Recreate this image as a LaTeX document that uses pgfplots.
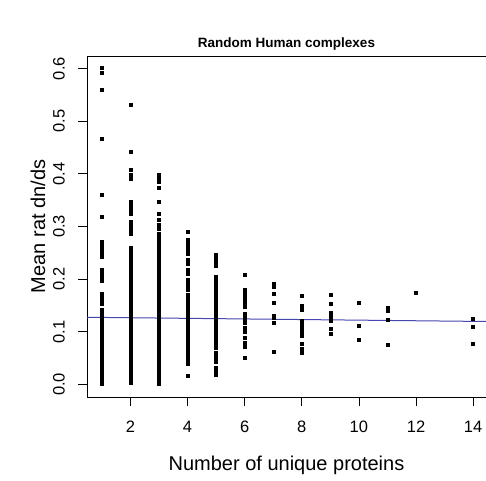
\documentclass[border=0pt]{standalone}
\usepackage{pgfplots}
\pgfplotsset{compat=1.18}
\usepackage{pgfplotstable}
\usepackage{fontspec}
\setmainfont{Liberation Sans}
\definecolor{lineblue}{RGB}{70,70,175}
\pgfplotstableread{
x y
1 0.602
1 0.592
1 0.560
1 0.467
1 0.360
1 0.319
1 0.272
1 0.266
1 0.260
1 0.254
1 0.248
1 0.242
1 0.217
1 0.212
1 0.207
1 0.202
1 0.197
1 0.173
1 0.168
1 0.163
1 0.158
1 0.153
1 0.141
1 0.136
1 0.131
1 0.126
1 0.121
1 0.116
1 0.111
1 0.106
1 0.101
1 0.094
1 0.089
1 0.084
1 0.079
1 0.074
1 0.069
1 0.064
1 0.059
1 0.054
1 0.049
1 0.044
1 0.039
1 0.034
1 0.029
1 0.024
1 0.019
1 0.014
1 0.009
1 0.004
1 0.001
2 0.531
2 0.442
2 0.407
2 0.398
2 0.390
2 0.347
2 0.340
2 0.332
2 0.325
2 0.309
2 0.302
2 0.294
2 0.286
2 0.259
2 0.252
2 0.245
2 0.238
2 0.232
2 0.226
2 0.221
2 0.216
2 0.211
2 0.206
2 0.201
2 0.196
2 0.191
2 0.186
2 0.181
2 0.176
2 0.171
2 0.166
2 0.161
2 0.156
2 0.151
2 0.146
2 0.141
2 0.136
2 0.131
2 0.126
2 0.121
2 0.116
2 0.111
2 0.106
2 0.101
2 0.096
2 0.091
2 0.086
2 0.081
2 0.076
2 0.071
2 0.066
2 0.061
2 0.056
2 0.051
2 0.046
2 0.041
2 0.036
2 0.031
2 0.026
2 0.021
2 0.016
2 0.011
2 0.006
2 0.003
3 0.398
3 0.392
3 0.386
3 0.373
3 0.347
3 0.325
3 0.312
3 0.303
3 0.295
3 0.287
3 0.279
3 0.271
3 0.265
3 0.260
3 0.255
3 0.250
3 0.245
3 0.240
3 0.235
3 0.230
3 0.225
3 0.220
3 0.215
3 0.210
3 0.205
3 0.200
3 0.195
3 0.190
3 0.185
3 0.180
3 0.175
3 0.170
3 0.165
3 0.160
3 0.155
3 0.150
3 0.145
3 0.140
3 0.135
3 0.130
3 0.125
3 0.120
3 0.115
3 0.110
3 0.105
3 0.100
3 0.095
3 0.090
3 0.085
3 0.080
3 0.075
3 0.070
3 0.065
3 0.060
3 0.055
3 0.050
3 0.045
3 0.040
3 0.035
3 0.030
3 0.025
3 0.020
3 0.015
3 0.010
3 0.005
3 0.001
4 0.290
4 0.274
4 0.268
4 0.262
4 0.255
4 0.249
4 0.236
4 0.229
4 0.217
4 0.210
4 0.198
4 0.192
4 0.186
4 0.180
4 0.170
4 0.165
4 0.160
4 0.155
4 0.150
4 0.145
4 0.140
4 0.135
4 0.130
4 0.125
4 0.120
4 0.115
4 0.110
4 0.105
4 0.100
4 0.095
4 0.090
4 0.085
4 0.080
4 0.075
4 0.070
4 0.065
4 0.060
4 0.055
4 0.050
4 0.045
4 0.040
4 0.017
5 0.246
5 0.240
5 0.234
5 0.226
5 0.204
5 0.198
5 0.192
5 0.186
5 0.179
5 0.173
5 0.164
5 0.159
5 0.154
5 0.149
5 0.144
5 0.139
5 0.134
5 0.129
5 0.124
5 0.119
5 0.114
5 0.109
5 0.104
5 0.099
5 0.094
5 0.089
5 0.084
5 0.079
5 0.074
5 0.069
5 0.061
5 0.055
5 0.049
5 0.043
5 0.032
5 0.025
5 0.018
6 0.208
6 0.179
6 0.173
6 0.166
6 0.160
6 0.153
6 0.147
6 0.135
6 0.129
6 0.122
6 0.118
6 0.107
6 0.100
6 0.088
6 0.080
6 0.071
6 0.050
7 0.192
7 0.186
7 0.173
7 0.156
7 0.131
7 0.126
7 0.117
7 0.062
8 0.168
8 0.150
8 0.145
8 0.141
8 0.121
8 0.116
8 0.111
8 0.107
8 0.100
8 0.092
8 0.078
8 0.067
8 0.061
9 0.170
9 0.154
9 0.137
9 0.128
9 0.121
9 0.105
9 0.097
10 0.156
10 0.112
10 0.084
11 0.145
11 0.140
11 0.122
11 0.076
12 0.174
14 0.124
14 0.110
14 0.078
}\points
\begin{document}
\begin{tikzpicture}
\useasboundingbox (-87pt,-83pt) rectangle (399pt,397pt);
\begin{axis}[
  at={(0,0)}, anchor=south west,
  scale only axis, width=399pt, height=341pt,
  xmin=0.48, xmax=14.45, ymin=-0.024, ymax=0.624,
  axis line style={line width=0.8pt},
  xtick={2,4,6,8,10,12,14}, xticklabels={2,4,6,8,10,12,14},
  ytick={0,0.1,0.2,0.3,0.4,0.5,0.6}, yticklabels={0.0,0.1,0.2,0.3,0.4,0.5,0.6},
  tick align=outside, major tick length=9pt,
  tick style={black, line width=0.8pt},
  xtick pos=bottom, ytick pos=left,
  tick label style={font=\fontsize{16.5}{19}\selectfont},
  xticklabel style={anchor=center, yshift=-21pt},
  yticklabel style={rotate=90, anchor=center, yshift=19pt},
  title={Random Human complexes},
  title style={font=\bfseries\fontsize{13.5}{16}\selectfont, at={(axis description cs:0.5,1)}, anchor=base, yshift=3pt},
  xlabel={Number of unique proteins},
  ylabel={Mean rat dn/ds},
  every axis x label/.style={at={(axis description cs:0.5,0)}, anchor=center, yshift=-68pt, font=\fontsize{20}{24}\selectfont},
  every axis y label/.style={at={(axis description cs:0,0.5)}, anchor=center, rotate=90, yshift=49pt, font=\fontsize{20}{24}\selectfont},
  clip=false,
]
\addplot[only marks, mark=square*, mark size=1.5pt, mark options={fill=black, draw=none}] table[x=x, y=y] {\points};
\addplot[lineblue, line width=1pt] coordinates {(0.48,0.1275) (14.45,0.1195)};
\end{axis}
\end{tikzpicture}
\end{document}
